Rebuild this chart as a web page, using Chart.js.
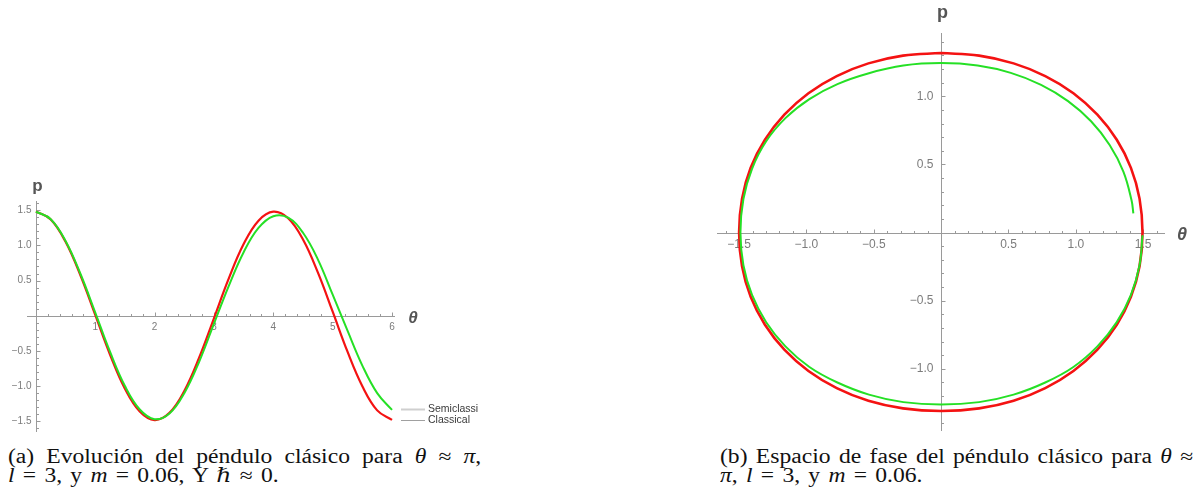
<!DOCTYPE html>
<html>
<head>
<meta charset="utf-8">
<script src="https://cdn.jsdelivr.net/npm/chart.js@4.4.1/dist/chart.umd.min.js"></script>
<style>
  body { margin: 0; width: 1196px; height: 498px; background: #fff; position: relative; overflow: hidden; }
  canvas { position: absolute; }
  #evo { left: 0; top: 170px; }
  #phase { left: 700px; top: 0; }
  .cap { position: absolute; font-family: "Liberation Serif", "DejaVu Serif", serif; font-size: 20px; line-height: 19px;
         color: #111; transform: scaleX(1.18); transform-origin: 0 0; width: 401px; }
  .cap .j { text-align: justify; text-align-last: justify; }
  .cap .r { word-spacing: 2px; }
</style>
</head>
<body>
<canvas id="evo" width="500" height="270"></canvas>
<canvas id="phase" width="496" height="440"></canvas>

<div class="cap" style="left:8px; top:447px;">
  <div class="j">(a) Evolución del péndulo clásico para <i>θ</i> ≈ <i>π</i>,</div>
  <div class="r"><i>l</i> = 3, y <i>m</i> = 0.06, Y <i>ℏ</i> ≈ 0.</div>
</div>
<div class="cap" style="left:720px; top:447px;">
  <div class="j">(b) Espacio de fase del péndulo clásico para <i>θ</i> ≈</div>
  <div class="r"><i>π</i>, <i>l</i> = 3, y <i>m</i> = 0.06.</div>
</div>

<script>
// (a) time evolution
const evoTime = [0, 0.25, 0.5, 0.75, 1, 1.25, 1.5, 1.75, 2, 2.25, 2.5, 2.75, 3,
  3.25, 3.5, 3.75, 4, 4.25, 4.5, 4.75, 5, 5.25, 5.5, 5.75, 6];
const evoClassical = [1.48, 1.368, 1.050, 0.574, 0.012, -0.553, -1.035, -1.359, -1.480,
  -1.377, -1.067, -0.595, -0.035, 0.531, 1.018, 1.351, 1.479, 1.385, 1.083, 0.616,
  0.058, -0.510, -1.000, -1.343, -1.477];
const evoSemiclassical = [1.48, 1.372, 1.063, 0.597, 0.046, -0.514, -0.998, -1.331, -1.468,
  -1.388, -1.099, -0.653, -0.112, 0.426, 0.903, 1.247, 1.414, 1.394, 1.179, 0.802,
  0.300, -0.212, -0.707, -1.098, -1.337];
const evoXTicks = [1, 2, 3, 4, 5, 6];
const evoYTicks = [-1.5, -1, -0.5, 0.5, 1, 1.5];
const legendNames = ['Semiclassi', 'Classical'];

// (b) phase space, clockwise from the top of the orbit
const phaseClassicalTheta = [0, 0.282, 0.538, 0.773, 0.982, 1.160, 1.304, 1.409, 1.473, 1.495,
  1.473, 1.409, 1.304, 1.160, 0.982, 0.773, 0.538, 0.282, 0,
  -0.283, -0.540, -0.775, -0.985, -1.164, -1.308, -1.414, -1.478, -1.5,
  -1.478, -1.414, -1.308, -1.164, -0.985, -0.775, -0.540, -0.283, 0];
const phaseClassicalP = [1.318, 1.299, 1.242, 1.149, 1.023, 0.865, 0.681, 0.475, 0.249, 0,
  -0.247, -0.472, -0.677, -0.860, -1.016, -1.142, -1.235, -1.291, -1.310,
  -1.291, -1.235, -1.142, -1.016, -0.860, -0.677, -0.472, -0.247, 0,
  0.249, 0.475, 0.681, 0.865, 1.023, 1.149, 1.242, 1.299, 1.318];
const phaseSemiTheta = [1.495, 1.473, 1.409, 1.304, 1.160, 0.982, 0.773, 0.538, 0.282, 0,
  -0.281, -0.536, -0.770, -0.978, -1.156, -1.299, -1.404, -1.468, -1.49,
  -1.468, -1.404, -1.299, -1.156, -0.978, -0.770, -0.536, -0.281, 0,
  0.271, 0.517, 0.742, 0.942, 1.113, 1.251, 1.353, 1.414, 1.427];
const phaseSemiP = [-0.02, -0.24, -0.458, -0.658, -0.836, -0.987, -1.101, -1.190, -1.245, -1.263,
  -1.245, -1.190, -1.101, -0.987, -0.836, -0.658, -0.458, -0.24, 0,
  0.246, 0.468, 0.67, 0.84, 0.98, 1.09, 1.17, 1.226, 1.244,
  1.226, 1.172, 1.084, 0.965, 0.817, 0.643, 0.448, 0.235, 0.141];
const phaseXTicks = [-1.5, -1, -0.5, 0.5, 1, 1.5];
const phaseYTicks = [-1, -0.5, 0.5, 1];

const RED = '#f41212';
const GREEN = '#25e025';

const pts = (xs, ys) => xs.map((v, i) => ({ x: v, y: ys[i] }));
const fmt = (v, d) => v.toFixed(d).replace('-', '\u2212');

// axes crossing at the origin, ticks pointing inwards, Mathematica style
const crossAxes = {
  id: 'crossAxes',
  beforeDatasetsDraw(chart, args, o) {
    const { ctx, chartArea: a, scales: { x, y } } = chart;
    const x0 = Math.round(x.getPixelForValue(0)) + 0.5;
    const y0 = Math.round(y.getPixelForValue(0)) + 0.5;
    ctx.save();
    ctx.strokeStyle = '#9a9a9a';
    ctx.lineWidth = 1;
    ctx.beginPath();
    ctx.moveTo(a.left, y0); ctx.lineTo(a.right, y0);
    ctx.moveTo(x0, a.top); ctx.lineTo(x0, a.bottom);
    // minor and major ticks along both axes
    for (let k = Math.ceil(x.min / o.xMinor); k * o.xMinor <= x.max; k++) {
      const v = k * o.xMinor;
      if (Math.abs(v) < 1e-9) continue;
      const major = Math.abs(v / o.xMajor - Math.round(v / o.xMajor)) < 1e-6;
      const px = Math.round(x.getPixelForValue(v)) + 0.5;
      ctx.moveTo(px, y0); ctx.lineTo(px, y0 - (major ? 4 : 2.5));
    }
    for (let k = Math.ceil(y.min / o.yMinor); k * o.yMinor <= y.max; k++) {
      const v = k * o.yMinor;
      if (Math.abs(v) < 1e-9) continue;
      const major = Math.abs(v / o.yMajor - Math.round(v / o.yMajor)) < 1e-6;
      const py = Math.round(y.getPixelForValue(v)) + 0.5;
      ctx.moveTo(x0, py); ctx.lineTo(x0 + (major ? 4 : 2.5), py);
    }
    ctx.stroke();

    ctx.fillStyle = '#7c7c7c';
    ctx.font = o.tickFont;
    ctx.textAlign = 'center';
    ctx.textBaseline = 'middle';
    o.xTicks.forEach(v => ctx.fillText(fmt(v, o.xDec), x.getPixelForValue(v), y0 + o.xGap));
    ctx.textAlign = 'right';
    o.yTicks.forEach(v => ctx.fillText(fmt(v, 1), x0 - o.yGap, y.getPixelForValue(v)));

    // axis names
    ctx.fillStyle = '#555';
    ctx.textBaseline = 'alphabetic';
    ctx.textAlign = 'center';
    ctx.font = 'bold ' + o.nameSize + 'px "Liberation Sans", Arial, sans-serif';
    ctx.fillText('p', x0 + 1, a.top - o.pLift);
    ctx.font = 'italic bold ' + o.nameSize + 'px "Liberation Sans", Arial, sans-serif';
    ctx.fillText('\u03b8', a.right + o.thetaGap, y0 + 6);
    ctx.restore();
  },
  afterDraw(chart, args, o) {
    if (!o.legend) return;
    const { ctx } = chart;
    const L = o.legend;
    ctx.save();
    ctx.font = '10.5px "Liberation Sans", Arial, sans-serif';
    ctx.textBaseline = 'middle';
    ctx.textAlign = 'left';
    L.names.forEach((name, i) => {
      const yy = L.y + i * 11;
      ctx.strokeStyle = i === 0 ? '#cfcfcf' : '#a0a0a0';
      ctx.lineWidth = i === 0 ? 2 : 1;
      ctx.beginPath();
      ctx.moveTo(L.x, yy + 0.5); ctx.lineTo(L.x + 24, yy + 0.5);
      ctx.stroke();
      ctx.fillStyle = '#3a3a3a';
      ctx.fillText(name, L.x + 27, yy);
    });
    ctx.restore();
  }
};

const lineSet = (data, color, width) => ({
  data, borderColor: color, borderWidth: width, pointRadius: 0,
  tension: 0.4, fill: false
});

new Chart('evo', {
  type: 'line',
  data: {
    datasets: [
      lineSet(pts(evoTime, evoSemiclassical), GREEN, 2),
      lineSet(pts(evoTime, evoClassical), RED, 2.2)
    ]
  },
  options: {
    responsive: false, animation: false,
    layout: { padding: { left: 27, right: 105, top: 31, bottom: 8 } },
    scales: {
      x: { type: 'linear', display: false, min: -0.15, max: 6.05 },
      y: { display: false, min: -1.65, max: 1.63 }
    },
    plugins: {
      legend: { display: false }, tooltip: { enabled: false },
      crossAxes: {
        xMinor: 0.2, xMajor: 1, yMinor: 0.1, yMajor: 0.5,
        xTicks: evoXTicks, yTicks: evoYTicks, xDec: 0,
        tickFont: '10px "Liberation Sans", Arial, sans-serif',
        xGap: 11, yGap: 5, nameSize: 17, pLift: 10, thetaGap: 18,
        legend: { names: legendNames, x: 401, y: 239 }
      }
    }
  },
  plugins: [crossAxes]
});

new Chart('phase', {
  type: 'line',
  data: {
    datasets: [
      lineSet(pts(phaseSemiTheta, phaseSemiP), GREEN, 2),
      lineSet(pts(phaseClassicalTheta, phaseClassicalP), RED, 2.6)
    ]
  },
  options: {
    responsive: false, animation: false,
    layout: { padding: { left: 17, right: 31, top: 33, bottom: 9 } },
    scales: {
      x: { type: 'linear', display: false, min: -1.664, max: 1.662 },
      y: { display: false, min: -1.457, max: 1.465 }
    },
    plugins: {
      legend: { display: false }, tooltip: { enabled: false },
      crossAxes: {
        xMinor: 0.1, xMajor: 0.5, yMinor: 0.1, yMajor: 0.5,
        xTicks: phaseXTicks, yTicks: phaseYTicks, xDec: 1,
        tickFont: '12px "Liberation Sans", Arial, sans-serif',
        xGap: 11, yGap: 8, nameSize: 18, pLift: 15, thetaGap: 17
      }
    }
  },
  plugins: [crossAxes]
});
</script>
</body>
</html>
